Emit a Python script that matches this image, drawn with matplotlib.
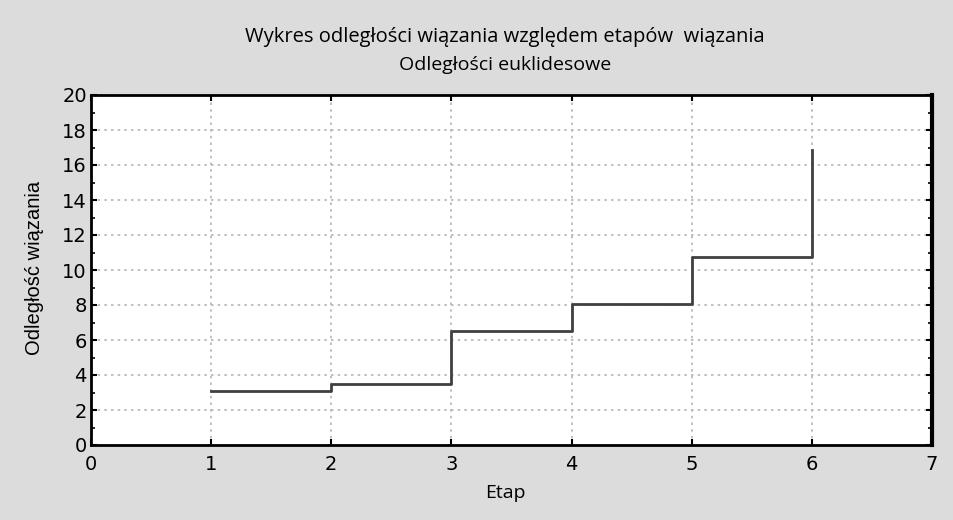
import matplotlib.pyplot as plt

# merge stages and linkage distances
stages = [1, 2, 3, 4, 5, 6]
distances = [3.09, 3.49, 6.51, 8.06, 10.74, 16.86]
xticks = [0, 1, 2, 3, 4, 5, 6, 7]
yticks = [0, 2, 4, 6, 8, 10, 12, 14, 16, 18, 20]

fig = plt.figure(figsize=(9.54, 5.2), dpi=100, facecolor='#dcdcdc')
ax = fig.add_axes([91 / 954, 1 - 445 / 520, (932 - 91) / 954, (445 - 95) / 520])
ax.set_facecolor('white')

ax.plot(stages, distances, drawstyle='steps-post', color='#404040', lw=2)

ax.set_xlim(0, 7)
ax.set_ylim(0, 20)
ax.set_xticks(xticks)
ax.set_yticks(yticks)
ax.set_yticks(range(1, 20, 2), minor=True)
ax.grid(True, linestyle=(0, (1.5, 2.5)), color='#b5b5b5', lw=1.2)
ax.tick_params(direction='in', length=4, width=1.5, labelsize=14, top=True, right=True)
ax.tick_params(which='minor', direction='in', length=3, width=1.2, right=True)
ax.tick_params(axis='x', pad=7)
ax.tick_params(axis='y', pad=3)

for side in ['left', 'bottom', 'top']:
    ax.spines[side].set_linewidth(2)
ax.spines['right'].set_linewidth(3)

fig.text(505 / 954, 1 - 37 / 520, 'Wykres odległości wiązania względem etapów  wiązania',
         ha='center', va='center', fontsize=14.5, family='Open Sans')
fig.text(505 / 954, 1 - 65 / 520, 'Odległości euklidesowe',
         ha='center', va='center', fontsize=14, family='Open Sans')
fig.text(35 / 954, 1 - 268 / 520, 'Odległość wiązania', rotation=90,
         ha='center', va='center', fontsize=14.5, family='Liberation Sans')
fig.text(505 / 954, 1 - 493 / 520, 'Etap',
         ha='center', va='center', fontsize=14, family='Open Sans')

fig.savefig('out.png', dpi=100, facecolor=fig.get_facecolor())
